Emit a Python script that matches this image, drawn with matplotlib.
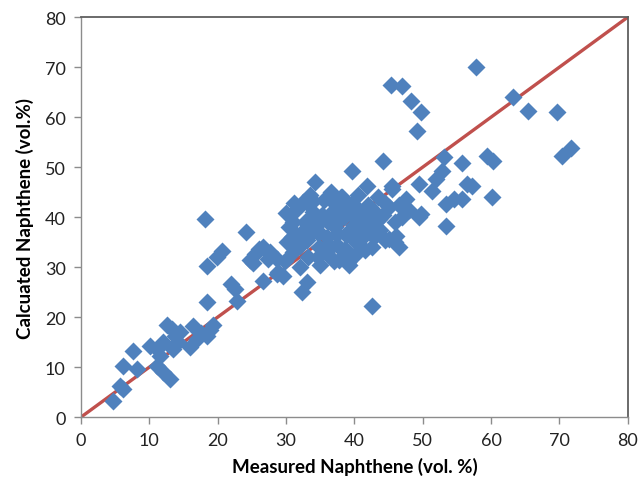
import matplotlib
matplotlib.use("Agg")
import matplotlib.pyplot as plt

# measured vs calculated naphthene (vol.%)
measured = [
    # low range
    4.7, 5.7, 6.1, 6.1, 7.6, 8.2, 10.1, 11.1, 11.5, 11.1, 12.0, 13.0, 12.0, 12.6,
    13.3, 13.7, 13.4, 14.2, 14.5, 15.9, 16.4, 16.9, 17.5, 18.4, 18.8, 19.3, 18.5,
    # mid range
    18.1, 24.2, 20.6, 19.9, 18.4, 22.0, 22.5, 22.8, 25.4, 24.7, 26.6, 27.3, 25.1,
    26.1, 27.6, 28.8, 29.5, 28.6, 29.8, 26.6, 28.6, 32.3, 33.0, 42.6,
    # main cluster
    30.0, 30.5, 30.2, 31.0, 31.5, 31.5, 32.0, 32.5, 32.8, 33.0, 33.2, 33.5, 34.2,
    34.0, 34.5, 34.8, 35.0, 35.5, 35.8, 36.0, 36.2, 36.5, 37.0, 37.2, 37.5, 37.8,
    38.0, 38.5, 38.8, 39.0, 39.5, 39.6, 40.0, 40.2, 40.5, 41.0, 41.3, 41.9, 42.0,
    42.2, 42.5, 43.0, 43.5, 43.8, 44.2, 44.5, 45.0, 45.5, 45.1, 46.1, 46.0, 47.6,
    45.5, 31.2, 33.8, 36.8, 39.2, 41.5, 43.2, 35.2, 38.2, 40.8, 37.0, 39.8, 34.6,
    31.0, 32.4, 33.6, 34.8, 36.2, 37.6, 38.8, 40.2, 41.6, 43.0, 44.4, 32.0, 33.4,
    34.6, 36.0, 37.4, 38.6, 40.0, 41.4, 42.8, 33.2, 35.6, 38.0, 39.4, 41.8, 36.6,
    30.8, 43.6, 34.0, 37.2, 39.0,
    # high range
    44.2, 45.3, 47.0, 48.3, 49.8, 49.2, 57.8, 63.2, 65.4, 69.6, 70.4, 71.7, 53.1,
    55.8, 59.4, 60.3, 49.5, 52.0, 52.8, 51.4, 56.4, 57.2, 60.1, 49.8, 53.4, 54.6,
    55.8, 53.4, 46.5, 48.0, 47.0, 49.5, 46.0, 46.5,
]
calculated = [
    3.2, 6.2, 5.6, 10.2, 13.2, 9.6, 14.2, 13.6, 12.2, 10.2, 9.0, 7.6, 15.0, 18.4,
    17.6, 16.2, 13.6, 15.0, 17.0, 14.0, 18.2, 15.6, 16.8, 16.2, 17.4, 18.4, 23.0,
    39.6, 37.0, 33.2, 32.0, 30.2, 26.6, 25.6, 23.2, 32.6, 31.4, 34.0, 31.6, 30.8,
    33.6, 33.0, 29.0, 28.2, 31.6, 31.2, 27.2, 28.6, 25.0, 27.0, 22.2,
    40.8, 38.0, 35.0, 33.0, 36.5, 41.5, 30.0, 43.0, 39.0, 35.5, 32.0, 44.5, 47.0,
    41.0, 37.5, 34.0, 30.5, 43.5, 39.5, 36.0, 32.5, 45.0, 41.5, 38.0, 34.5, 31.5,
    44.0, 40.0, 36.5, 33.0, 42.5, 49.2, 38.5, 35.0, 44.5, 40.5, 37.0, 46.2, 42.5,
    38.8, 34.0, 41.0, 44.0, 37.5, 40.5, 35.5, 42.0, 45.6, 35.6, 36.2, 39.0, 43.6,
    46.2, 42.8, 38.5, 43.0, 30.5, 33.5, 39.2, 40.5, 44.0, 36.0, 31.2, 40.2, 36.8,
    39.0, 37.0, 40.0, 38.8, 39.2, 42.6, 41.4, 42.0, 40.0, 38.0, 42.8, 34.2, 36.4,
    32.0, 34.4, 36.6, 33.6, 32.2, 36.2, 36.0, 42.6, 40.0, 39.8, 37.4, 38.4, 34.0,
    36.0, 39.6, 43.2, 43.6, 31.0,
    51.2, 66.4, 66.2, 63.2, 61.0, 57.2, 70.0, 64.0, 61.2, 61.0, 52.2, 53.8, 52.0,
    50.8, 52.2, 51.2, 46.6, 47.6, 49.2, 45.2, 46.6, 46.2, 44.0, 40.6, 42.6, 43.6,
    43.6, 38.2, 42.5, 41.5, 40.0, 40.0, 35.0, 34.0,
]
ideal = [0, 80]
ticks = list(range(0, 81, 10))

BLUE = "#4f81bd"
RED = "#c0504d"
FRAME = "#5f5f5f"
AXIS = "#8c8c8c"

plt.rcParams["font.family"] = ["Lato", "DejaVu Sans"]

fig = plt.figure(figsize=(6.4, 4.89), dpi=100)
ax = fig.add_axes([0.1266, 0.145, 0.8544, 0.818])

ax.plot(ideal, ideal, color=RED, linewidth=2.4, zorder=2, solid_capstyle="butt")
ax.plot(measured, calculated, linestyle="none", marker="D", markersize=8.8,
        markerfacecolor=BLUE, markeredgecolor="none", zorder=3)

ax.set_xlim(0, 80)
ax.set_ylim(0, 80)
ax.set_xticks(ticks)
ax.set_yticks(ticks)
ax.tick_params(direction="out", length=5, width=1, color=AXIS,
               labelsize=13, labelcolor="#222222", pad=6)

for side in ("top", "right"):
    ax.spines[side].set_color(FRAME)
    ax.spines[side].set_linewidth(1.3)
for side in ("left", "bottom"):
    ax.spines[side].set_color(AXIS)
    ax.spines[side].set_linewidth(1.0)

ax.set_xlabel("Measured Naphthene (vol. %)", fontsize=13.5, fontweight="bold",
              labelpad=6)
ax.set_ylabel("Calcuated Naphthene (vol.%)", fontsize=13.5, fontweight="bold",
              labelpad=8)

fig.savefig("out.png", dpi=100, facecolor="white")
